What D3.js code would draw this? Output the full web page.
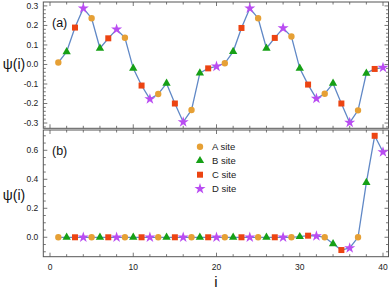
<!DOCTYPE html>
<html>
<head>
<meta charset="utf-8">
<script src="https://cdn.jsdelivr.net/npm/d3@7"></script>
<style>
  body { margin: 0; background: #fff; }
  svg { display: block; font-family: "Liberation Sans", Arial, sans-serif; }
</style>
</head>
<body>
<svg id="chart" width="390" height="290"></svg>
<script>
'use strict';

// lattice sites 1..40, site type repeats A B C D
var sites = d3.range(1, 41);
var siteTypes = ['A site', 'B site', 'C site', 'D site'];

// panel (a) amplitudes
var psiA = [
  0.010, 0.065, 0.189, 0.288, 0.237, 0.083, 0.134, 0.180, 0.137, -0.020,
  -0.108, -0.177, -0.151, -0.097, -0.200, -0.295, -0.233, -0.044, -0.020, -0.010,
  0.006, 0.066, 0.187, 0.288, 0.237, 0.083, 0.136, 0.186, 0.143, -0.020,
  -0.103, -0.175, -0.150, -0.097, -0.200, -0.298, -0.235, -0.045, -0.023, -0.016
];

// panel (b) amplitudes (edge state)
var psiB = [
  0, 0, 0, 0, 0, 0, 0, 0, 0, 0,
  0, 0, 0, 0, 0, 0, 0, 0, 0, 0,
  0, 0, 0, 0, 0, 0, 0, 0, 0, 0.004,
  0.011, 0.009, 0.000, -0.045, -0.088, -0.074, 0.000, 0.377, 0.700, 0.588
];

var xTicks = [0, 10, 20, 30, 40];
var yTicksA = [-0.3, -0.2, -0.1, 0.0, 0.1, 0.2, 0.3];
var yTicksB = [0.0, 0.2, 0.4, 0.6];

var lineColor = '#6088c6';
var siteColors = ['#e6a035', '#16a016', '#ec4412', '#b94cf2'];
var siteShapes = [d3.symbolCircle, d3.symbolTriangle, d3.symbolSquare, d3.symbolStar];
var siteSizes = [32, 30, 36, 38];
var frameColor = '#555';

var svg = d3.select('#chart');

var x = d3.scaleLinear().domain([-0.805, 40.66]).range([43.3, 388.5]);

var panels = [
  { data: psiA, label: '(a)', ticks: yTicksA, minor: 0.02, fmt: d3.format('.1f'),
    y: d3.scaleLinear().domain([-0.327, 0.32]).range([128.3, 2]), xLabels: false },
  { data: psiB, label: '(b)', ticks: yTicksB, minor: 0.05, fmt: d3.format('.1f'),
    y: d3.scaleLinear().domain([-0.134, 0.74]).range([256.7, 130]), xLabels: true }
];

panels.forEach(drawPanel);

function drawPanel( p ) {
  var g = svg.append('g');
  var x0 = x.range()[0], x1 = x.range()[1];
  var y0 = p.y.range()[0], y1 = p.y.range()[1];

  // minor / major ticks on all four sides, pointing inward
  var xMinor = d3.range(0, 41, 2);
  xMinor.forEach(function(v) {
    var major = v % 10 === 0;
    var len = major ? 4 : 2.5;
    g.append('line').attr('x1', x(v)).attr('x2', x(v)).attr('y1', y0).attr('y2', y0 - len)
      .attr('stroke', frameColor).attr('stroke-width', 0.8);
    g.append('line').attr('x1', x(v)).attr('x2', x(v)).attr('y1', y1).attr('y2', y1 + len)
      .attr('stroke', frameColor).attr('stroke-width', 0.8);
  });

  var dom = p.y.domain();
  var yMinor = d3.range(Math.ceil(dom[0] / p.minor) * p.minor, dom[1], p.minor);
  yMinor.forEach(function(v) {
    var major = p.ticks.some(function(t) { return Math.abs(t - v) < 1e-6; });
    var len = major ? 4 : 2.5;
    g.append('line').attr('x1', x0).attr('x2', x0 + len).attr('y1', p.y(v)).attr('y2', p.y(v))
      .attr('stroke', frameColor).attr('stroke-width', 0.8);
    g.append('line').attr('x1', x1).attr('x2', x1 - len).attr('y1', p.y(v)).attr('y2', p.y(v))
      .attr('stroke', frameColor).attr('stroke-width', 0.8);
  });

  g.append('rect')
    .attr('x', x0).attr('y', y1)
    .attr('width', x1 - x0).attr('height', y0 - y1)
    .attr('fill', 'none').attr('stroke', frameColor).attr('stroke-width', 1);

  // y tick labels
  g.selectAll('.ylab').data(p.ticks).enter().append('text')
    .attr('x', x0 - 5).attr('y', function(d) { return p.y(d); })
    .attr('dy', '0.35em').attr('text-anchor', 'end')
    .attr('font-size', 8.5).attr('fill', '#222')
    .text(function(d) { return p.fmt(d).replace('−', '-'); });

  if ( p.xLabels ) {
    g.selectAll('.xlab').data(xTicks).enter().append('text')
      .attr('x', function(d) { return x(d); }).attr('y', y0 + 13)
      .attr('text-anchor', 'middle')
      .attr('font-size', 8.5).attr('fill', '#222')
      .text(function(d) { return d; });
  }

  // connecting line
  var line = d3.line()
    .x(function(d, i) { return x(sites[i]); })
    .y(function(d) { return p.y(d); });

  g.append('path').datum(p.data)
    .attr('d', line)
    .attr('fill', 'none').attr('stroke', lineColor).attr('stroke-width', 1.3);

  // site markers
  g.selectAll('.pt').data(p.data).enter().append('path')
    .attr('transform', function(d, i) { return 'translate(' + x(sites[i]) + ',' + p.y(d) + ')'; })
    .attr('d', function(d, i) { return d3.symbol().type(siteShapes[i % 4]).size(siteSizes[i % 4])(); })
    .attr('fill', function(d, i) { return siteColors[i % 4]; });

  // panel label
  g.append('text')
    .attr('x', 52).attr('y', y1 + 25)
    .attr('font-size', 12.5).attr('fill', '#111')
    .text(p.label);

  // y axis title
  g.append('text')
    .attr('x', 14).attr('y', p.y(0) + (p.xLabels ? -42 : 0))
    .attr('dy', '0.35em').attr('text-anchor', 'middle')
    .attr('font-size', 14).attr('fill', '#111')
    .text('ψ(i)');
}

// x axis title
svg.append('text')
  .attr('x', 216).attr('y', 287)
  .attr('text-anchor', 'middle')
  .attr('font-size', 15).attr('fill', '#111')
  .text('i');

// legend
var legend = svg.append('g');
siteTypes.forEach(function(name, k) {
  var ly = 146.7 + k * 14;
  legend.append('path')
    .attr('transform', 'translate(200,' + ly + ')')
    .attr('d', d3.symbol().type(siteShapes[k]).size(siteSizes[k])())
    .attr('fill', siteColors[k]);
  legend.append('text')
    .attr('x', 212).attr('y', ly).attr('dy', '0.35em')
    .attr('font-size', 9.5).attr('fill', '#222')
    .text(name);
});
</script>
</body>
</html>
